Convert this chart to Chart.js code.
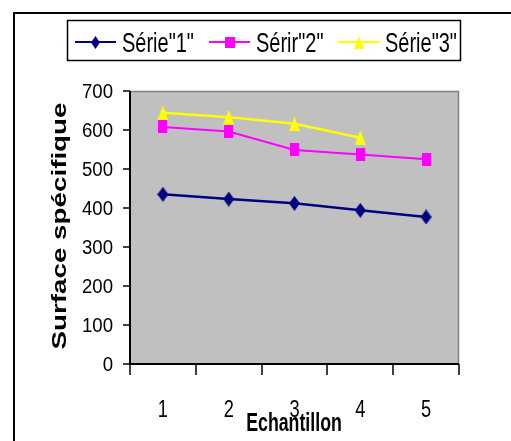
<!DOCTYPE html>
<html>
<head>
<meta charset="utf-8">
<script src="https://cdn.jsdelivr.net/npm/chart.js@4"></script>
<style>
  html, body { margin: 0; padding: 0; background: #fff; }
  canvas { display: block; }
</style>
</head>
<body>
<canvas id="chartSurface" width="511" height="441"></canvas>
<script>
var categories = ['1', '2', '3', '4', '5'];
var serie1 = [435, 423, 412, 394, 377];
var serie2 = [608, 596, 549, 537, 525];
var serie3 = [644, 633, 616, 580, null];
var seriesLabels = ['Série"1"', 'Sérir"2"', 'Série"3"'];
var yTicks = [0, 100, 200, 300, 400, 500, 600, 700];
var xTitle = 'Echantillon';
var yTitle = 'Surface spécifique';

var FONT = '"Liberation Sans", Arial, sans-serif';

// little canvases used as point markers (narrow and tall)
function makeMarker(shape, w, h, color) {
    var c = document.createElement('canvas');
    c.width = w;
    c.height = h;
    var g = c.getContext('2d');
    g.fillStyle = color;
    g.beginPath();
    if (shape == 'diamond') {
        g.moveTo(w / 2, 0); g.lineTo(w, h / 2); g.lineTo(w / 2, h); g.lineTo(0, h / 2);
    } else if (shape == 'square') {
        g.rect(0, 0, w, h);
    } else {
        g.moveTo(w / 2, 0); g.lineTo(w, h); g.lineTo(0, h);
    }
    g.closePath();
    g.fill();
    return c;
}

var colors = ['#000080', '#FF00FF', '#FFFF00'];
var markers = [
    makeMarker('diamond', 11, 15, colors[0]),
    makeMarker('square', 9, 13, colors[1]),
    makeMarker('triangle', 11, 15, colors[2])
];
var legendMarkers = [
    makeMarker('diamond', 9, 13, colors[0]),
    makeMarker('square', 10, 11, colors[1]),
    makeMarker('triangle', 10, 13, colors[2])
];

function squeezeText(ctx, text, x, y, font, sx, align, baseline) {
    ctx.save();
    ctx.font = font;
    ctx.translate(x, y);
    ctx.scale(sx, 1);
    ctx.textAlign = align;
    ctx.textBaseline = baseline || 'alphabetic';
    ctx.fillStyle = '#000';
    ctx.fillText(text, 0, 0);
    ctx.restore();
}

var excelLook = {
    id: 'excelLook',
    beforeDatasetsDraw: function (chart) {
        var ctx = chart.ctx, a = chart.chartArea;
        ctx.save();
        // plot background
        ctx.fillStyle = '#C0C0C0';
        ctx.fillRect(a.left, a.top, a.right - a.left, a.bottom - a.top);
        // grey top/right edge of the plot area
        ctx.strokeStyle = '#808080';
        ctx.lineWidth = 1.5;
        ctx.beginPath();
        ctx.moveTo(a.left, a.top + 0.5);
        ctx.lineTo(a.right - 0.5, a.top + 0.5);
        ctx.lineTo(a.right - 0.5, a.bottom);
        ctx.stroke();
        ctx.restore();
    },
    afterDraw: function (chart) {
        var ctx = chart.ctx, a = chart.chartArea;
        var xs = chart.scales.x, ys = chart.scales.y;
        ctx.save();

        // outer frame (top and left)
        ctx.strokeStyle = '#000';
        ctx.lineWidth = 2;
        ctx.beginPath();
        ctx.moveTo(14, 441);
        ctx.lineTo(14, 13);
        ctx.lineTo(511, 13);
        ctx.stroke();

        // axes
        ctx.lineWidth = 2;
        ctx.beginPath();
        ctx.moveTo(a.left, a.top);
        ctx.lineTo(a.left, a.bottom);
        ctx.lineTo(a.right, a.bottom);
        ctx.stroke();

        // y tick marks + labels
        ctx.lineWidth = 1.5;
        yTicks.forEach(function (v) {
            var py = Math.round(ys.getPixelForValue(v));
            ctx.beginPath();
            ctx.moveTo(a.left - 7, py);
            ctx.lineTo(a.left, py);
            ctx.stroke();
            squeezeText(ctx, String(v), 113, py + 1, '20px ' + FONT, 0.93, 'right', 'middle');
        });

        // x tick marks on category boundaries + labels
        for (var i = 0; i <= categories.length; i++) {
            var px = Math.round(xs.getPixelForValue(i - 0.5));
            ctx.beginPath();
            ctx.moveTo(px, a.bottom);
            ctx.lineTo(px, a.bottom + 11);
            ctx.stroke();
        }
        categories.forEach(function (c, i) {
            squeezeText(ctx, c, xs.getPixelForValue(i), 417, '24px ' + FONT, 0.76, 'center');
        });

        // axis titles
        squeezeText(ctx, xTitle, 294, 431, 'bold 25px ' + FONT, 0.71, 'center');
        ctx.save();
        ctx.font = 'bold 19.5px ' + FONT;
        var w = ctx.measureText(yTitle).width;
        ctx.translate(66, 226);
        ctx.rotate(-Math.PI / 2);
        ctx.scale(247 / w, 1);
        ctx.textAlign = 'center';
        ctx.fillStyle = '#000';
        ctx.fillText(yTitle, 0, 0);
        ctx.restore();

        // legend box
        ctx.lineWidth = 1.5;
        ctx.strokeStyle = '#000';
        ctx.strokeRect(67.5, 20.5, 393, 40);
        var legendX = [75, 209, 338];
        chart.data.datasets.forEach(function (ds, k) {
            var x0 = legendX[k], ly = 42;
            ctx.strokeStyle = ds.borderColor;
            ctx.lineWidth = 2;
            ctx.beginPath();
            ctx.moveTo(x0, ly);
            ctx.lineTo(x0 + 41, ly);
            ctx.stroke();
            var m = legendMarkers[k];
            ctx.drawImage(m, Math.round(x0 + 20.5 - m.width / 2), Math.round(ly - m.height / 2));
            squeezeText(ctx, ds.label, x0 + 47, 52, '27px ' + FONT, 0.74, 'left');
        });

        ctx.restore();
    }
};

var series = [serie1, serie2, serie3];
var datasets = series.map(function (values, k) {
    return {
        label: seriesLabels[k],
        data: values,
        borderColor: colors[k],
        backgroundColor: colors[k],
        borderWidth: k == 1 ? 2 : 2.5,
        pointStyle: markers[k],
        pointRadius: 6,
        tension: 0,
        order: 3 - k
    };
});

var config = {
    type: 'line',
    data: {
        labels: categories,
        datasets: datasets
    },
    options: {
        responsive: false,
        animation: false,
        layout: {
            padding: { left: 130, top: 91, right: 52, bottom: 77 }
        },
        scales: {
            x: {
                type: 'category',
                offset: true,
                display: false
            },
            y: {
                type: 'linear',
                min: 0,
                max: 700,
                display: false
            }
        },
        plugins: {
            legend: { display: false },
            title: { display: false },
            tooltip: { enabled: false }
        }
    },
    plugins: [excelLook]
};

var ctx = document.getElementById('chartSurface').getContext('2d');
var graphSurface = new Chart(ctx, config);
</script>
</body>
</html>
